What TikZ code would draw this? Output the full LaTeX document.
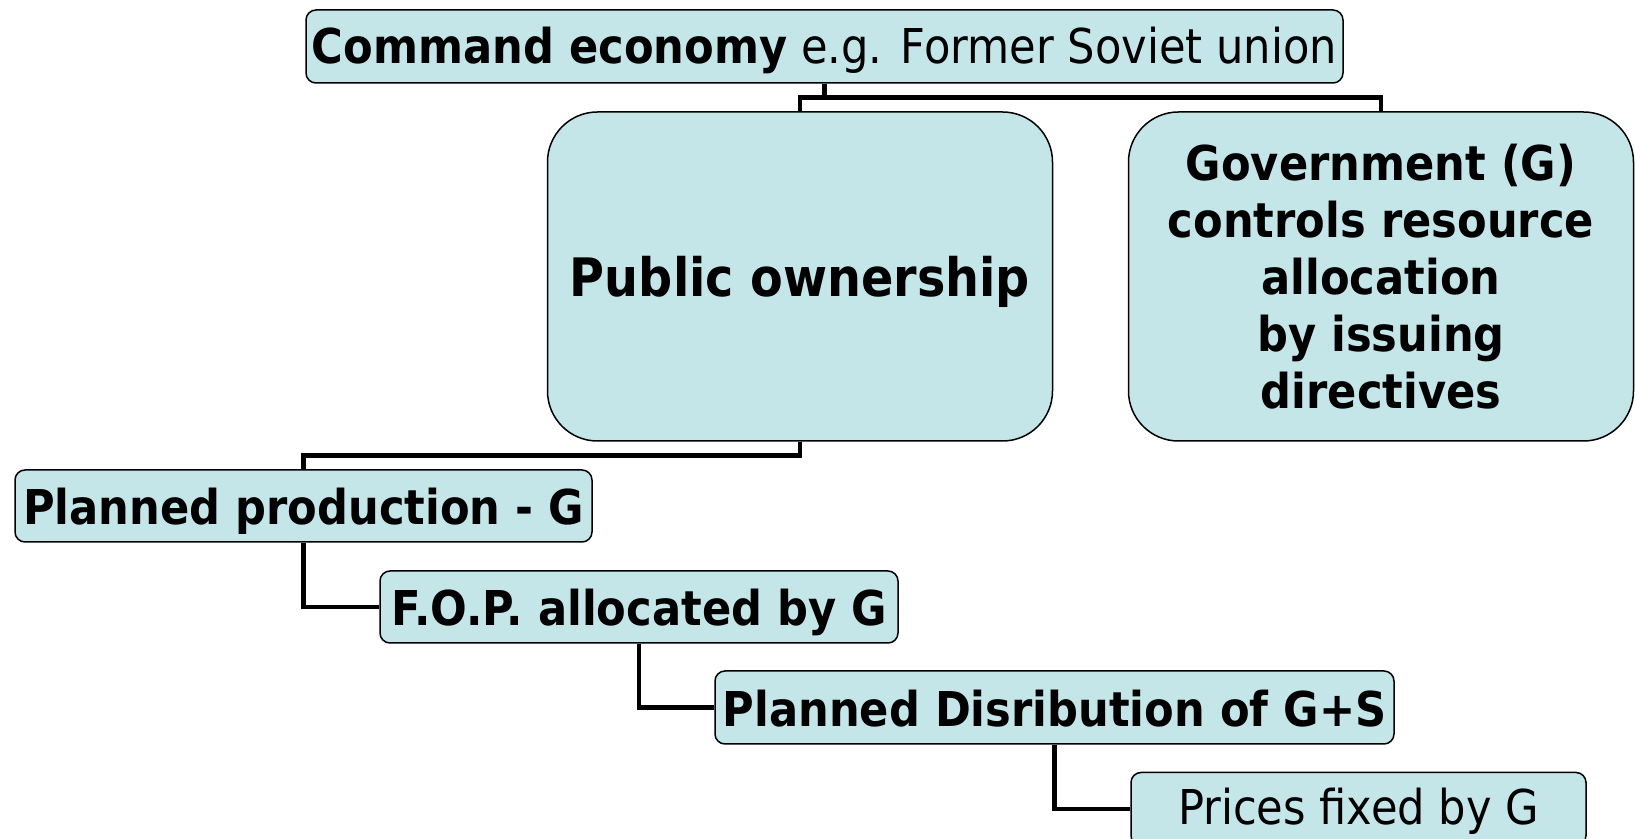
\documentclass[tikz,border=0pt]{standalone}
\usepackage{fontspec}
\setmainfont{DejaVu Sans}[FakeStretch=0.9]
\usepackage{tikz}
\usetikzlibrary{positioning}
\definecolor{cBox}{HTML}{C5E6E9}
\definecolor{cLine}{HTML}{000000}
\tikzset{
  blk/.style={draw=cLine, line width=0.75pt, fill=cBox, align=center,
              inner sep=0pt, font=\fontsize{24}{28.5}\selectfont},
  leaf/.style={blk, rounded corners=5pt, minimum height=36pt,
               text height=22pt, text depth=3pt},
  leafb/.style={leaf, font=\fontsize{24}{28.5}\selectfont\bfseries},
  bigb/.style={blk, rounded corners=25pt, minimum width=252.5pt,
               minimum height=164.5pt, font=\fontsize{24}{28.5}\selectfont\bfseries},
  link/.style={draw=cLine, line width=2.4pt},
}

\begin{document}
\begin{tikzpicture}[x=0.5pt, y=-0.5pt]
    \useasboundingbox (0,0) rectangle (1635,839);

    % top of the tree
    \node[leaf, minimum width=518.5pt, minimum height=36.5pt,
          text height=20pt] (cmd) at (824.5,46.5)
      {\textbf{Command economy} e.g. Former Soviet union};

    % the two features
    \node[bigb, font=\fontsize{26.5}{31}\selectfont\bfseries,
          text height=23pt, text depth=3pt] (pub) at (800,276.5) {Public ownership};
    \node[bigb] (gov) at (1381,276.5)
      {Government (G)\\ controls resource\\ allocation\\ by issuing\\ directives};

    % planning chain
    \node[leafb, minimum width=288.5pt] (plan) at (303.5,506) {Planned production - G};
    \node[leafb, minimum width=259pt] (fop) at (639,607) {F.O.P. allocated by G};
    \node[leafb, minimum width=339.5pt, minimum height=36.5pt] (dist) at (1054.5,707.5)
      {Planned Disribution of G+S};
    \node[leaf, minimum width=227.5pt, minimum height=36.5pt,
          text height=19pt] (price) at (1358.5,809)
      {Prices fixed by G};

    % connectors
    \draw[link] (cmd.south) -- ++(0,14) coordinate (split) -| (pub.north);
    \draw[link] (split) -| (gov.north);
    \draw[link] (pub.south) -- ++(0,14) -| (plan.north);
    \draw[link] (plan.south) |- (fop.west);
    \draw[link] (fop.south) |- (dist.west);
    \draw[link] (dist.south) |- (price.west);
\end{tikzpicture}
\end{document}
